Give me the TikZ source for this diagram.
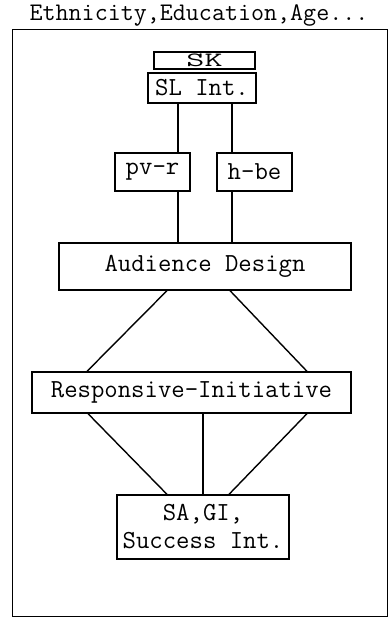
\documentclass[tikz,border=0pt]{standalone}
\usepackage{fontspec}
\usepackage{graphicx}
\usepackage{tikz}

\begin{document}
\begin{tikzpicture}[x=1pt,y=1pt,
  txt/.style={font=\ttfamily\fontsize{26}{28}\selectfont},
  box/.style={txt,draw,line width=1.3pt,inner sep=0pt,align=center},
  link/.style={line width=1.4pt}]
  \useasboundingbox (0,0) rectangle (389,619);
  \node[font=\ttfamily\fontsize{25.3}{28}\selectfont] (title) at (199,604) {Ethnicity,Education,Age...};
  \draw[line width=1pt] (12,589) rectangle (387,2);
  % top of the chain
  \node[txt,draw,line width=1.3pt,inner sep=0pt,minimum width=101pt,minimum height=17pt,
    text height=12pt,text depth=0pt] (sk) at (204.5,558.5) {\scalebox{1.35}[0.78]{SK}};
  \node[box,minimum width=108pt,minimum height=30pt] (slint) at (202,531) {SL Int.};
  \node[box,minimum width=75pt,minimum height=38pt] (pvr) at (152.5,447) {pv-r};
  \node[box,minimum width=75pt,minimum height=38pt] (hbe) at (254.5,447) {h-be};
  \node[box,minimum width=292pt,minimum height=47pt] (aud) at (205,352.5) {Audience Design};
  \node[box,minimum width=319pt,minimum height=41pt] (resp) at (191.5,226.5) {Responsive-Initiative};
  \node[box,minimum width=172pt,minimum height=64pt] (sagi) at (203,92) {SA,GI,\\Success Int.};
  % connectors
  \draw[link] ([xshift=25.5pt]pvr.north) -- ([xshift=25.5pt]pvr.north |- slint.south);
  \draw[link] ([xshift=-22.5pt]hbe.north) -- ([xshift=-22.5pt]hbe.north |- slint.south);
  \draw[link] ([xshift=25.5pt]pvr.south) -- ([xshift=25.5pt]pvr.south |- aud.north);
  \draw[link] ([xshift=-22.5pt]hbe.south) -- ([xshift=-22.5pt]hbe.south |- aud.north);
  \draw[link] ([xshift=-38pt]aud.south) -- ([xshift=-104.5pt]resp.north);
  \draw[link] ([xshift=25pt]aud.south) -- ([xshift=115.5pt]resp.north);
  \draw[link] ([xshift=-103.5pt]resp.south) -- ([xshift=-36pt]sagi.north);
  \draw[link] ([xshift=11.5pt]resp.south) -- (sagi.north);
  \draw[link] ([xshift=115.5pt]resp.south) -- ([xshift=26pt]sagi.north);
\end{tikzpicture}
\end{document}
